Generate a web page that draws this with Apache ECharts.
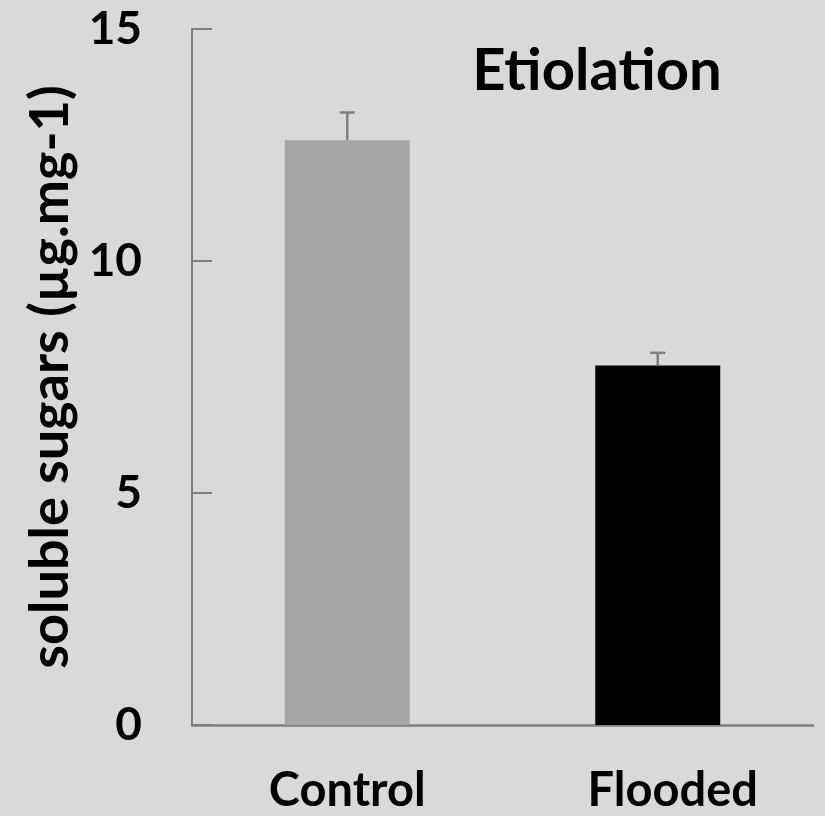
<!DOCTYPE html>
<html>
<head>
<meta charset="utf-8">
<script src="https://cdn.jsdelivr.net/npm/echarts@6/dist/echarts.min.js"></script>
<style>
  html, body { margin: 0; padding: 0; background: #d9d9d9; }
  #chart { width: 825px; height: 816px; }
</style>
</head>
<body>
<div id="chart"></div>
<script>
// Soluble sugar content under etiolation: mean and standard error per treatment
const categories = ['Control', 'Flooded'];
const means = [12.6, 7.75];
const errors = [0.6, 0.27];
const barColors = ['#a6a6a6', '#000000'];
const yTicks = [0, 5, 10, 15];

const FONT = 'Lato, "Open Sans", "Liberation Sans", sans-serif';

const chart = echarts.init(document.getElementById('chart'));

chart.setOption({
  backgroundColor: '#d9d9d9',
  animation: false,
  title: {
    text: 'Etiolation',
    left: 592,
    top: 37,
    textAlign: 'center',
    textStyle: { fontFamily: FONT, fontWeight: 'bold', fontSize: 58, color: '#000' }
  },
  grid: { left: 192, right: 12, top: 29, bottom: 91 },
  xAxis: {
    type: 'category',
    data: categories.map((c, i) => i === 1
      ? { value: c, textStyle: { padding: [0, 0, 0, 30] } }
      : { value: c }),
    axisLine: { lineStyle: { color: '#7f7f7f', width: 2.5 } },
    axisTick: { show: false },
    axisLabel: {
      margin: 42,
      fontFamily: FONT, fontWeight: 'bold', fontSize: 47, color: '#000'
    }
  },
  yAxis: {
    type: 'value',
    min: yTicks[0],
    max: yTicks[yTicks.length - 1],
    interval: 5,
    name: 'soluble sugars (µg.mg-1)',
    nameLocation: 'middle',
    nameGap: 110,
    nameTextStyle: { fontFamily: FONT, fontWeight: 'bold', fontSize: 54, color: '#000' },
    axisLine: { show: true, lineStyle: { color: '#7f7f7f', width: 2 } },
    axisTick: { show: true, inside: true, length: 20, lineStyle: { color: '#7f7f7f', width: 2 } },
    splitLine: { show: false },
    axisLabel: {
      margin: 50,
      fontFamily: FONT, fontWeight: 'bold', fontSize: 46, color: '#000'
    }
  },
  series: [
    {
      type: 'bar',
      barWidth: 125,
      data: means.map((v, i) => ({ value: v, itemStyle: { color: barColors[i] } })),
      z: 2
    },
    {
      type: 'custom',
      z: 3,
      data: means.map((v, i) => [i, v, v + errors[i]]),
      renderItem: function (params, api) {
        const x = api.value(0);
        const base = api.coord([x, api.value(1)]);
        const top = api.coord([x, api.value(2)]);
        const half = 7.5;
        const style = { stroke: '#808080', lineWidth: 2.5 };
        return {
          type: 'group',
          children: [
            { type: 'line', shape: { x1: base[0], y1: base[1], x2: top[0], y2: top[1] }, style: style },
            { type: 'line', shape: { x1: top[0] - half, y1: top[1], x2: top[0] + half, y2: top[1] }, style: style }
          ]
        };
      }
    }
  ]
});
</script>
</body>
</html>
